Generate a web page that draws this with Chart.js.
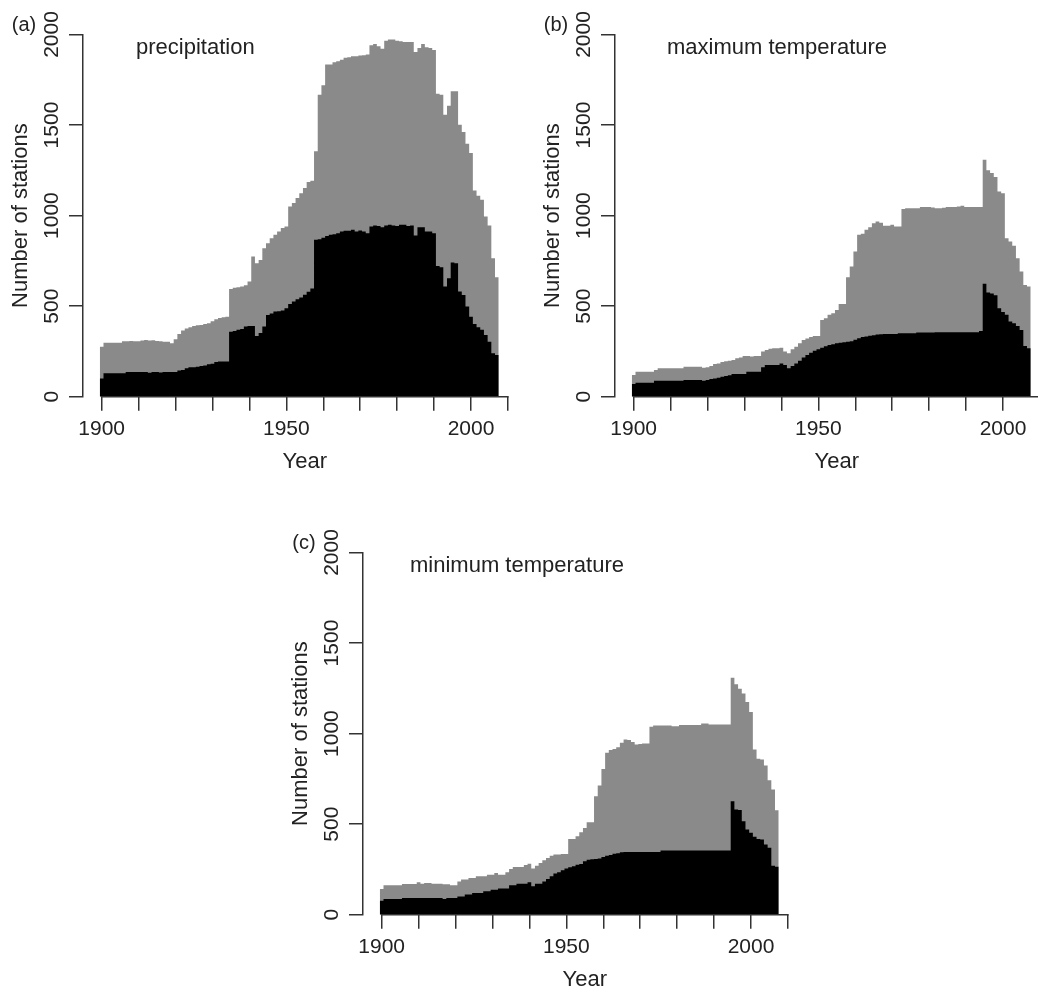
<!DOCTYPE html>
<html>
<head>
<meta charset="utf-8">
<script src="https://cdn.jsdelivr.net/npm/chart.js@4.4.1/dist/chart.umd.min.js"></script>
<style>
  html, body { margin: 0; padding: 0; background: #fff; overflow: hidden; width: 1038px; height: 992px; }
  .panel { position: absolute; }
</style>
</head>
<body>
<canvas id="pa" class="panel" width="540" height="500" style="left:0px;top:0px"></canvas>
<canvas id="pb" class="panel" width="540" height="500" style="left:532px;top:0px"></canvas>
<canvas id="pc" class="panel" width="540" height="500" style="left:280px;top:518px"></canvas>
<script>
// one value per year, 1900..2007
const firstYear = 1900;
const yTicks = [0, 500, 1000, 1500, 2000];
const xTicks = [1900, 1910, 1920, 1930, 1940, 1950, 1960, 1970, 1980, 1990, 2000, 2010];
const xLabelYears = [1900, 1950, 2000];

// (a) precipitation: all stations (grey) and subset (black)
const precipAll = [
  276, 298, 298, 298, 298, 298, 306, 306, 308, 306,
  306, 310, 313, 310, 312, 308, 306, 304, 304, 295,
  317, 346, 365, 376, 383, 391, 394, 396, 402, 405,
  417, 428, 435, 439, 442, 595, 601, 605, 608, 616,
  636, 774, 737, 755, 820, 848, 875, 894, 912, 931,
  940, 1050, 1070, 1097, 1124, 1152, 1185, 1192, 1355, 1668,
  1720, 1834, 1834, 1847, 1852, 1861, 1871, 1874, 1880, 1880,
  1884, 1885, 1889, 1941, 1948, 1935, 1922, 1966, 1972, 1972,
  1966, 1963, 1959, 1959, 1959, 1904, 1926, 1948, 1930, 1926,
  1915, 1673, 1668, 1557, 1607, 1686, 1686, 1502, 1461, 1397,
  1345, 1139, 1109, 1087, 995, 945, 765, 660
];
const precipSub = [
  101, 129, 129, 129, 129, 129, 129, 136, 136, 136,
  136, 136, 136, 132, 136, 136, 133, 136, 136, 136,
  136, 144, 147, 157, 162, 162, 165, 170, 172, 179,
  182, 192, 194, 194, 194, 359, 363, 369, 374, 387,
  391, 391, 335, 352, 387, 451, 460, 470, 472, 476,
  488, 512, 525, 538, 548, 563, 580, 598, 866, 870,
  878, 888, 894, 897, 903, 912, 916, 916, 922, 912,
  918, 912, 903, 940, 945, 943, 935, 945, 949, 945,
  943, 949, 949, 943, 945, 890, 936, 936, 912, 912,
  903, 722, 715, 608, 654, 741, 737, 581, 562, 498,
  442, 402, 383, 369, 341, 304, 240, 230
];

// (b) maximum temperature
const tmaxAll = [
  120, 138, 138, 138, 138, 138, 147, 157, 157, 157,
  157, 157, 157, 157, 166, 166, 166, 166, 166, 160,
  162, 170, 181, 184, 192, 196, 199, 203, 212, 217,
  225, 225, 222, 225, 225, 249, 258, 265, 267, 267,
  270, 249, 240, 262, 276, 295, 313, 322, 330, 335,
  335, 424, 433, 452, 461, 479, 512, 512, 660, 719,
  802, 894, 900, 922, 936, 958, 968, 960, 944, 944,
  949, 940, 940, 1036, 1041, 1041, 1041, 1041, 1047, 1047,
  1047, 1045, 1041, 1041, 1044, 1047, 1047, 1047, 1050, 1054,
  1047, 1047, 1047, 1047, 1047, 1309, 1250, 1235, 1213, 1133,
  1124, 875, 857, 833, 765, 691, 617, 608
];
const tmaxSub = [
  70, 77, 77, 77, 77, 77, 88, 88, 88, 88,
  88, 88, 88, 88, 92, 92, 92, 92, 92, 88,
  92, 98, 101, 105, 110, 114, 118, 125, 125, 125,
  125, 138, 138, 138, 138, 162, 175, 175, 175, 175,
  184, 175, 157, 170, 184, 199, 216, 230, 243, 254,
  262, 270, 278, 285, 290, 295, 298, 300, 304, 306,
  315, 323, 330, 333, 337, 340, 343, 345, 346, 346,
  346, 346, 350, 350, 350, 350, 350, 354, 354, 354,
  354, 354, 356, 356, 356, 356, 356, 356, 356, 356,
  356, 356, 356, 356, 363, 623, 575, 570, 560, 488,
  468, 452, 415, 405, 390, 368, 280, 268
];

// (c) minimum temperature
const tminAll = [
  142, 162, 162, 162, 162, 162, 170, 170, 170, 170,
  179, 171, 175, 175, 171, 171, 171, 168, 168, 162,
  162, 184, 194, 194, 203, 203, 212, 212, 212, 221,
  221, 230, 221, 221, 234, 252, 264, 264, 264, 275,
  282, 255, 270, 286, 300, 313, 325, 332, 332, 335,
  335, 418, 418, 433, 455, 479, 510, 510, 654, 713,
  805, 894, 909, 915, 925, 949, 968, 965, 953, 940,
  942, 945, 945, 1038, 1045, 1045, 1045, 1045, 1045, 1041,
  1041, 1047, 1047, 1047, 1047, 1047, 1047, 1056, 1056, 1050,
  1050, 1050, 1050, 1050, 1050, 1309, 1272, 1248, 1222, 1174,
  1119, 912, 861, 857, 824, 743, 691, 577
];
const tminSub = [
  77, 87, 87, 87, 87, 87, 92, 92, 92, 92,
  92, 92, 92, 92, 92, 92, 92, 87, 92, 92,
  92, 101, 101, 111, 111, 120, 120, 120, 129, 129,
  138, 138, 144, 144, 144, 162, 162, 171, 171, 171,
  179, 157, 171, 171, 184, 197, 212, 227, 235, 245,
  255, 262, 268, 276, 280, 295, 304, 306, 308, 310,
  318, 326, 330, 337, 340, 345, 346, 346, 346, 346,
  346, 346, 346, 346, 346, 346, 354, 354, 354, 354,
  354, 354, 354, 354, 354, 354, 354, 354, 354, 354,
  354, 354, 354, 354, 354, 627, 581, 578, 516, 470,
  452, 430, 418, 415, 387, 369, 270, 265
];

const axisColor = '#333';
const textColor = '#222';
const fontFamily = '"Liberation Sans", Arial, Helvetica, sans-serif';

// each year is a block from year-0.5 to year+0.5
function steps(values) {
  const pts = values.map((v, i) => ({ x: firstYear + i - 0.5, y: v }));
  pts.push({ x: firstYear + values.length - 0.5, y: values[values.length - 1] });
  return pts;
}

// x axis line (only between first and last tick), panel tag and title
const panelDecor = {
  id: 'panelDecor',
  afterDatasetsDraw(chart, args, opts) {
    const { ctx, chartArea, scales } = chart;
    const x = scales.x;
    ctx.save();
    ctx.strokeStyle = axisColor;
    ctx.lineWidth = 1.5;
    ctx.beginPath();
    ctx.moveTo(x.getPixelForValue(xTicks[0]) - 0.75, chartArea.bottom);
    ctx.lineTo(x.getPixelForValue(xTicks[xTicks.length - 1]) + 0.75, chartArea.bottom);
    ctx.stroke();

    ctx.fillStyle = textColor;
    ctx.font = '20px ' + fontFamily;
    ctx.textAlign = 'center';
    ctx.textBaseline = 'middle';
    ctx.fillText(opts.tag, 24, 25);

    ctx.font = '22px ' + fontFamily;
    ctx.textAlign = 'left';
    ctx.textBaseline = 'alphabetic';
    ctx.fillText(opts.title, opts.titleX, 54);
    ctx.restore();
  }
};

function makePanel(id, tag, title, titleX, allValues, subValues) {
  new Chart(document.getElementById(id), {
    type: 'line',
    data: {
      datasets: [
        { data: steps(subValues), backgroundColor: '#000', borderColor: 'rgba(0,0,0,0)',
          fill: 'origin', stepped: true, borderWidth: 0, pointRadius: 0 },
        { data: steps(allValues), backgroundColor: '#8a8a8a', borderColor: 'rgba(0,0,0,0)',
          fill: 'origin', stepped: true, borderWidth: 0, pointRadius: 0 }
      ]
    },
    options: {
      responsive: false,
      animation: false,
      devicePixelRatio: 1,
      layout: { padding: { top: 34.5, left: 0, right: 13.4, bottom: 0 } },
      plugins: {
        legend: { display: false },
        tooltip: { enabled: false },
        panelDecor: { tag: tag, title: title, titleX: titleX }
      },
      scales: {
        x: {
          type: 'linear',
          min: 1894.95,
          max: 2015.05,
          afterBuildTicks: s => { s.ticks = xTicks.map(v => ({ value: v })); },
          afterFit: s => { s.height = 103.3; },
          border: { display: false },
          grid: { drawOnChartArea: false, drawTicks: true, tickLength: 14, color: axisColor, lineWidth: 1.5 },
          ticks: {
            autoSkip: false, maxRotation: 0, padding: 5.5, color: textColor,
            font: { family: fontFamily, size: 21 },
            callback: v => xLabelYears.includes(v) ? String(v) : ''
          },
          title: {
            display: true, text: 'Year', color: textColor,
            font: { family: fontFamily, size: 22 },
            padding: { top: 0, bottom: 24.8 }
          }
        },
        y: {
          type: 'linear',
          min: 0,
          max: 2000,
          afterBuildTicks: s => { s.ticks = yTicks.map(v => ({ value: v })); },
          afterFit: s => { s.width = 83; },
          border: { display: true, color: axisColor, width: 1.5 },
          grid: { drawOnChartArea: false, drawTicks: true, tickLength: 14, color: axisColor, lineWidth: 1.5 },
          ticks: {
            minRotation: 90, maxRotation: 90, crossAlign: 'center', padding: -6.85,
            color: textColor, font: { family: fontFamily, size: 21 },
            callback: v => String(v)
          },
          title: {
            display: true, text: 'Number of stations', color: textColor,
            font: { family: fontFamily, size: 22 },
            padding: { top: 7.8, bottom: 0 }
          }
        }
      }
    },
    plugins: [panelDecor]
  });
}

makePanel('pa', '(a)', 'precipitation', 136, precipAll, precipSub);
makePanel('pb', '(b)', 'maximum temperature', 135, tmaxAll, tmaxSub);
makePanel('pc', '(c)', 'minimum temperature', 130, tminAll, tminSub);
</script>
</body>
</html>
